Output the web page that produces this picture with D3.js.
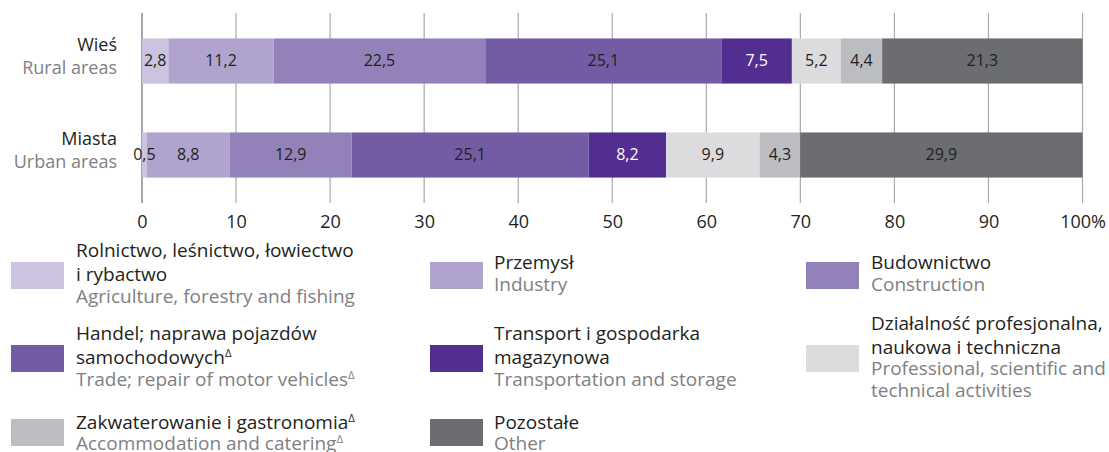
<!DOCTYPE html>
<html><head><meta charset="utf-8">
<script src="https://cdn.jsdelivr.net/npm/d3@7"></script>
<style>
html,body{margin:0;padding:0;background:#fff;}
svg{display:block;font-family:"Open Sans",sans-serif;}
</style></head>
<body><svg id="c" width="1109" height="452"></svg>
<script>
// ---- data ----
const categoriesPL = ["Wieś", "Miasta"];
const categoriesEN = ["Rural areas", "Urban areas"];
const sectorKeys = ["agri","industry","construction","trade","transport","professional","accommodation","other"];
const ruralValues = [2.8, 11.2, 22.5, 25.1, 7.5, 5.2, 4.4, 21.3];
const urbanValues = [0.5, 8.8, 12.9, 25.1, 8.2, 9.9, 4.3, 29.9];
const tickValues = [0, 10, 20, 30, 40, 50, 60, 70, 80, 90, 100];
const tickLabels = ["0","10","20","30","40","50","60","70","80","90","100%"];
const sectorColors = ["#cbc3df","#b0a3cd","#9382b9","#745ca5","#522e91","#dcdcde","#bcbdc0","#6c6d70"];
const labelColors = ["#231f20","#231f20","#231f20","#231f20","#ffffff","#231f20","#231f20","#231f20"];
const legendPL = [
  ["Rolnictwo, leśnictwo, łowiectwo","i rybactwo"],
  ["Przemysł"],
  ["Budownictwo"],
  ["Handel; naprawa pojazdów","samochodowych^"],
  ["Transport i gospodarka","magazynowa"],
  ["Działalność profesjonalna,","naukowa i techniczna"],
  ["Zakwaterowanie i gastronomia^"],
  ["Pozostałe"]
];
const legendEN = [
  ["Agriculture, forestry and fishing"],
  ["Industry"],
  ["Construction"],
  ["Trade; repair of motor vehicles^"],
  ["Transportation and storage"],
  ["Professional, scientific and","technical activities"],
  ["Accommodation and catering^"],
  ["Other"]
];

// ---- chart ----
const svg = d3.select("#c");
const x = d3.scaleLinear().domain([0,100]).range([142,1082.5]);
const y = d3.scaleBand().domain(categoriesPL).range([14,202]).paddingInner(0.52).paddingOuter(0.26);

const rows = [ruralValues, urbanValues].map((vals,i)=>{
  const o = {cat: categoriesPL[i]};
  sectorKeys.forEach((k,j)=>o[k]=vals[j]);
  return o;
});
const stack = d3.stack().keys(sectorKeys).offset(d3.stackOffsetExpand);
const series = stack(rows);
const xs = v => x(v*100);

// gridlines
const gridTop = 13, gridBottom = 203;
svg.append("g").selectAll("line").data(tickValues).join("line")
  .attr("x1",d=>x(d)).attr("x2",d=>x(d))
  .attr("y1",gridTop).attr("y2",gridBottom)
  .attr("stroke",d=>d===0?"#6d6e71":"#a7a9ac").attr("stroke-width",1.2);

// bars
const g = svg.append("g");
series.forEach((s,si)=>{
  g.selectAll(null).data(s).join("rect")
    .attr("x",d=>xs(d[0])).attr("width",d=>xs(d[1])-xs(d[0]))
    .attr("y",d=>y(d.data.cat)).attr("height",y.bandwidth())
    .attr("fill",sectorColors[si]);
});
series.forEach((s,si)=>{
  g.selectAll(null).data(s).join("text")
    .attr("x",d=>(xs(d[0])+xs(d[1]))/2)
    .attr("y",d=>y(d.data.cat)+y.bandwidth()/2+5.2)
    .attr("text-anchor","middle")
    .attr("font-size",16)
    .attr("fill",labelColors[si])
    .text(d=>String(d.data[s.key]).replace(".",","));
});

// category labels
categoriesPL.forEach((c,i)=>{
  const cy = y(c)+y.bandwidth()/2;
  svg.append("text").attr("x",117).attr("y",cy-10).attr("text-anchor","end")
    .attr("font-size",18).attr("fill","#231f20").text(c);
  svg.append("text").attr("x",117).attr("y",cy+13.2).attr("text-anchor","end")
    .attr("font-size",18).attr("fill","#808083").text(categoriesEN[i]);
});

// axis
const axis = d3.axisBottom(x).tickValues(tickValues).tickSize(0).tickPadding(0)
  .tickFormat((d,i)=>tickLabels[i]);
const ag = svg.append("g").attr("transform","translate(0,215)").call(axis);
ag.select(".domain").remove();
ag.selectAll("text").attr("font-size",18).attr("fill","#231f20")
  .attr("font-family","'Open Sans',sans-serif").attr("dy","0.71em");

// legend
const colSwatchX = [11,430,806];
const colTextX = [76,494,871];
const rowCenter = [275.5,358.5,432.5];
const rowTextShift = [0,0,2.5];
const fs = 19;
function addText(sel, str, size){
  const parts = str.split("^");
  sel.append("tspan").text(parts[0]);
  if(parts.length>1){
    sel.append("tspan").attr("font-size",size*0.6).attr("dy",-7).text("Δ");
  }
}
sectorKeys.forEach((k,i)=>{
  const col = i%3, row = Math.floor(i/3);
  const c = rowCenter[row];
  svg.append("rect").attr("x",colSwatchX[col]).attr("y",c-13.5)
    .attr("width",53).attr("height",27).attr("fill",sectorColors[i]);
  const lines = legendPL[i].map(t=>({t,pl:true})).concat(legendEN[i].map(t=>({t,pl:false})));
  const gaps = [];
  for(let j=1;j<lines.length;j++){
    gaps.push(lines[j-1].pl && lines[j].pl ? 24 : (lines[j-1].pl ? 21.5 : 21.5));
  }
  const total = d3.sum(gaps);
  let by = c - total/2 + 4.5 + rowTextShift[row];
  lines.forEach((ln,j)=>{
    if(j>0) by += gaps[j-1];
    const t = svg.append("text").attr("x",colTextX[col]).attr("y",by)
      .attr("font-size",fs).attr("fill",ln.pl?"#231f20":"#808083");
    addText(t, ln.t, fs);
  });
});
</script></body></html>
